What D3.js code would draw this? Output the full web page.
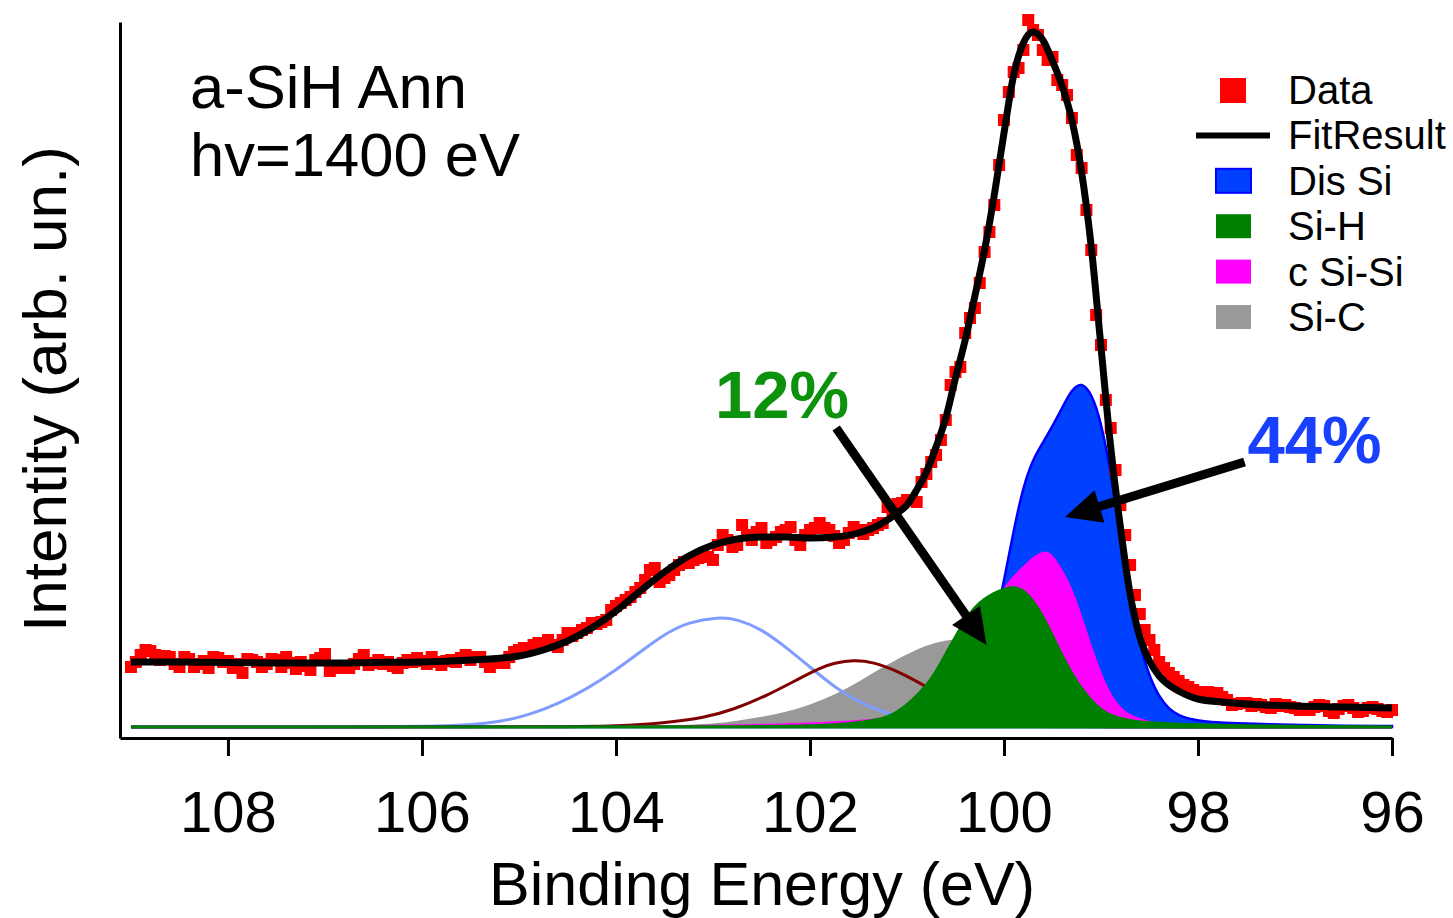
<!DOCTYPE html>
<html>
<head>
<meta charset="utf-8">
<script src="https://cdn.jsdelivr.net/npm/d3@7"></script>
<style>
  body { margin: 0; background: #fff; }
  text { font-family: "Liberation Sans", Arial, sans-serif; fill: #000; }
</style>
</head>
<body>
<svg id="xps" width="1453" height="918"></svg>
<script>
// measured spectrum: one point every 0.05 eV from 109.0 down to 96.0 eV
const dataStart = 109.0;
const dataStep = 0.05;
const dataCounts = [
  60, 65, 72, 77, 76, 72, 67, 71, 70, 63, 60, 70, 68, 60, 63, 66, 59, 70, 69, 65,
  66, 59, 63, 54, 68, 67, 65, 60, 63, 68, 67, 60, 70, 64, 58, 65, 61, 57, 67, 69,
  73, 56, 59, 61, 59, 59, 63, 68, 72, 62, 64, 67, 63, 65, 61, 59, 64, 67, 65, 69,
  66, 63, 70, 65, 62, 66, 67, 65, 69, 72, 67, 70, 70, 65, 60, 64, 66, 64, 70, 75,
  77, 79, 78, 82, 84, 83, 87, 82, 80, 87, 94, 91, 94, 97, 99, 104, 103, 105, 107, 117,
  121, 124, 127, 130, 135, 139, 147, 157, 159, 145, 149, 152, 157, 162, 165, 164, 167, 169, 172, 170,
  167, 182, 192, 187, 180, 182, 202, 192, 187, 195, 199, 184, 187, 190, 195, 197, 200, 187, 182, 192,
  197, 199, 204, 199, 197, 191, 184, 187, 194, 200, 197, 193, 197, 199, 202, 204, 220, 215, 223, 224,
  227, 227, 225, 245, 253, 265, 272, 287, 307, 342, 355, 360, 394, 409, 419, 444, 475, 495, 522, 562,
  607, 635, 655, 659, 677, 707, 697, 692, 677, 667, 670, 647, 642, 632, 609, 572, 559, 517, 477, 412,
  382, 327, 299, 257, 222, 192, 162, 132, 113, 97, 87, 77, 65, 59, 54, 50, 46, 42, 40, 37,
  35, 34, 35, 33, 34, 30, 27, 22, 23, 24, 24, 21, 23, 22, 20, 19, 23, 21, 22, 20,
  19, 17, 18, 17, 20, 22, 21, 16, 14, 18, 21, 22, 19, 15, 16, 19, 20, 18, 16, 15, 17
];

// fit envelope
const fitEnergy = [109.0, 108.5, 108.0, 107.5, 107.0, 106.5, 106.0, 105.5, 105.0, 104.75, 104.5, 104.25, 104.0,
  103.75, 103.5, 103.25, 103.0, 102.75, 102.5, 102.25, 102.0, 101.75, 101.5, 101.25, 101.1, 101.0,
  100.9, 100.8, 100.7, 100.6, 100.5, 100.4, 100.3, 100.2, 100.1, 100.0,
  99.9, 99.8, 99.7, 99.6, 99.5, 99.4, 99.3, 99.2, 99.1, 99.0,
  98.9, 98.8, 98.7, 98.6, 98.5, 98.4, 98.3, 98.2, 98.0, 97.75, 97.5, 97.0, 96.5, 96.0];
const fitCounts = [65, 65, 64.5, 64, 64, 64.5, 65, 67, 71, 77, 86, 99, 116,
  136, 155, 171, 182, 188, 190, 190, 189, 190, 194, 204, 214, 222,
  237, 255, 280, 309, 349, 387, 431, 477, 532, 594,
  652, 684, 695, 687, 666, 641, 607, 555, 480, 380,
  280, 200, 133, 90, 66, 51, 42, 36, 28, 25, 23, 21, 20, 19];

// fit components
const broadEnergy = [109.0, 106.0, 105.5, 105.2, 104.9, 104.6, 104.3, 104.0, 103.75, 103.5, 103.25, 102.95,
  102.75, 102.5, 102.25, 102.0, 101.75, 101.5, 101.25, 101.0, 100.5, 100.0, 96.0];
const broadCounts = [0, 0, 2, 5, 12, 23, 38, 57, 75, 93, 105, 110, 108, 98, 80, 60, 40, 25, 15, 8, 2, 0, 0];

const midEnergy = [109.0, 104.5, 104.0, 103.5, 103.1, 102.8, 102.45, 102.1, 101.9, 101.75, 101.55, 101.35,
  101.1, 100.85, 100.6, 100.35, 100.1, 99.8, 99.3, 96.0];
const midCounts = [0, 0, 1, 4, 9, 17, 31, 49, 59, 64, 67, 65, 56, 43, 29, 16, 7, 2, 0, 0];

const siCEnergy = [109.0, 104.0, 103.5, 103.0, 102.75, 102.5, 102.25, 102.0, 101.75, 101.5, 101.25, 101.0,
  100.8, 100.6, 100.45, 100.3, 100.1, 99.9, 99.6, 99.3, 99.0, 98.5, 96.0];
const siCCounts = [0, 0, 1, 3, 6, 10, 15, 22, 32, 45, 60, 73, 82, 87, 88, 86, 76, 60, 35, 15, 5, 0, 0];

const disSiEnergy = [109.0, 101.2, 100.8, 100.5, 100.3, 100.2, 100.1, 100.0, 99.9, 99.8, 99.7, 99.6, 99.5,
  99.4, 99.3, 99.2, 99.1, 99.0, 98.9, 98.8, 98.7, 98.6, 98.5, 98.4, 98.3, 98.2, 98.0, 97.75, 97.0, 96.5, 96.0];
const disSiCounts = [0, 0, 3, 10, 30, 55, 100, 146, 197, 241, 268, 284, 301,
  319, 338, 345, 334, 306, 255, 193, 133, 82, 50, 30, 18, 11, 6, 4, 2, 1, 1];

const cSiSiEnergy = [109.0, 101.2, 100.8, 100.6, 100.4, 100.2, 100.0, 99.9, 99.8, 99.7, 99.58, 99.5,
  99.4, 99.3, 99.2, 99.1, 99.0, 98.9, 98.8, 98.7, 98.5, 98.2, 97.5, 96.0];
const cSiSiCounts = [0, 0, 20, 45, 80, 110, 140, 152, 161, 171, 177, 173, 158, 140, 113, 82, 55, 33, 20, 12, 5, 3, 1, 0];

const siHEnergy = [109.0, 102.5, 102.0, 101.6, 101.28, 101.1, 100.94, 100.8, 100.7, 100.6, 100.5, 100.4,
  100.3, 100.2, 100.1, 100.0, 99.9, 99.8, 99.7, 99.6, 99.5, 99.4, 99.3, 99.2, 99.1, 99.0, 98.9, 98.7,
  98.5, 98.0, 97.5, 96.0];
const siHCounts = [0, 0, 1, 3, 7, 14, 27, 41, 55, 73, 90, 107, 120, 128, 134, 138, 140, 137, 126, 111,
  91, 71, 53, 38, 26, 17, 11, 6, 4, 2, 1, 0];

const xTicks = [108, 106, 104, 102, 100, 98, 96];

// annotations: [energy, counts]
const notes = [
  { text: "12%", color: "#0c920c", at: [102.98, 309], from: [101.73, 299], to: [100.18, 82] },
  { text: "44%", color: "#1a40ff", at: [97.49, 264], from: [97.52, 265], to: [99.37, 210] }
];

const svg = d3.select("#xps");

const x = d3.scaleLinear().domain([109.113, 96]).range([120, 1392]);
const y = d3.scaleLinear().domain([-11, 705]).range([738, 22]);

const pts = (es, cs) => es.map((e, i) => [e, cs[i]]);
const fitLine = d3.line().x(d => x(d[0])).y(d => y(d[1])).curve(d3.curveMonotoneX);
const line = d3.line().x(d => x(d[0])).y(d => y(d[1])).curve(d3.curveBasis);
const area = d3.area().x(d => x(d[0])).y0(y(0)).y1(d => y(d[1])).curve(d3.curveBasis);

//Si-C
svg.append("path").attr("d", area(pts(siCEnergy, siCCounts))).attr("fill", "#999999");

// thin component lines
svg.append("path").attr("d", line(pts(broadEnergy, broadCounts)))
  .attr("fill", "none").attr("stroke", "#7f9dff").attr("stroke-width", 3);
svg.append("path").attr("d", line(pts(midEnergy, midCounts)))
  .attr("fill", "none").attr("stroke", "#800000").attr("stroke-width", 3);

//Dis Si, c Si-Si, Si-H
svg.append("path").attr("d", area(pts(disSiEnergy, disSiCounts)))
  .attr("fill", "#0040ff").attr("stroke", "#0000ff").attr("stroke-width", 2.5);
svg.append("path").attr("d", area(pts(cSiSiEnergy, cSiSiCounts))).attr("fill", "#ff00ff");
svg.append("path").attr("d", area(pts(siHEnergy, siHCounts)))
  .attr("fill", "#008000").attr("stroke", "#008000").attr("stroke-width", 3);

// data squares
const data = dataCounts.map((c, i) => [dataStart - i * dataStep, c]);
svg.append("g").selectAll("rect").data(data).enter().append("rect")
  .attr("x", d => x(d[0]) - 6)
  .attr("y", d => y(d[1]) - 6)
  .attr("width", 12)
  .attr("height", 12)
  .attr("fill", "#ff0000");

// fit
svg.append("path").attr("d", fitLine(pts(fitEnergy, fitCounts)))
  .attr("fill", "none").attr("stroke", "#000").attr("stroke-width", 7)
  .attr("stroke-linejoin", "round");

// axes
const xAxis = svg.append("g")
  .attr("transform", "translate(0," + y.range()[0] + ")")
  .call(d3.axisBottom(x).tickValues(xTicks).tickFormat(d3.format("d")).tickSize(18).tickSizeOuter(0));
xAxis.select(".domain").attr("stroke-width", 3);
xAxis.selectAll(".tick line").attr("stroke-width", 3);
xAxis.selectAll(".tick text")
  .attr("y", 94).attr("dy", null)
  .attr("font-size", 58)
  .attr("font-family", "Liberation Sans, Arial, sans-serif");

const yAxis = svg.append("g")
  .attr("transform", "translate(" + x.range()[0] + ",0)")
  .call(d3.axisLeft(y).tickValues([]).tickSizeOuter(0));
yAxis.select(".domain").attr("stroke-width", 3);

svg.append("text").attr("x", 762).attr("y", 905).attr("text-anchor", "middle")
  .attr("font-size", 61).text("Binding Energy (eV)");
svg.append("text").attr("transform", "translate(66,389) rotate(-90)").attr("text-anchor", "middle")
  .attr("font-size", 62).text("Intentity (arb. un.)");

// sample label
svg.append("text").attr("x", 190).attr("y", 108).attr("font-size", 61.5).text("a-SiH Ann");
svg.append("text").attr("x", 190).attr("y", 176).attr("font-size", 61.5).text("hv=1400 eV");

// percentage arrows
notes.forEach(n => {
  const x0 = x(n.from[0]), y0 = y(n.from[1]);
  const x1 = x(n.to[0]), y1 = y(n.to[1]);
  const len = Math.hypot(x1 - x0, y1 - y0);
  const ux = (x1 - x0) / len, uy = (y1 - y0) / len;
  const head = 36, half = 17;
  const bx = x1 - ux * head, by = y1 - uy * head;
  svg.append("line")
    .attr("x1", x0).attr("y1", y0)
    .attr("x2", bx + ux * 2).attr("y2", by + uy * 2)
    .attr("stroke", "#000").attr("stroke-width", 9);
  svg.append("path")
    .attr("d", "M" + x1 + "," + y1 +
      "L" + (bx - uy * half) + "," + (by + ux * half) +
      "L" + (bx + uy * half) + "," + (by - ux * half) + "Z")
    .attr("fill", "#000");
  svg.append("text")
    .attr("x", x(n.at[0])).attr("y", y(n.at[1]))
    .attr("font-size", 67).attr("font-weight", "bold")
    .style("fill", n.color)
    .text(n.text);
});

// legend
const legend = svg.append("g").attr("font-size", 40);
const legendNames = ["Data", "FitResult", "Dis Si", "Si-H", "c Si-Si", "Si-C"];
const swatchFill = { "Dis Si": "#0040ff", "Si-H": "#008000", "c Si-Si": "#ff00ff", "Si-C": "#999999" };
legendNames.forEach((name, i) => {
  const cy = 90 + i * 45.4;
  if (name === "Data") {
    legend.append("rect").attr("x", 1220).attr("y", cy - 12).attr("width", 26).attr("height", 25).attr("fill", "#ff0000");
  } else if (name === "FitResult") {
    legend.append("line").attr("x1", 1196).attr("x2", 1270).attr("y1", cy).attr("y2", cy)
      .attr("stroke", "#000").attr("stroke-width", 6);
  } else {
    legend.append("rect").attr("x", 1216).attr("y", cy - 12).attr("width", 35).attr("height", 24)
      .attr("fill", swatchFill[name])
      .attr("stroke", name === "Dis Si" ? "#0000ff" : "none").attr("stroke-width", 2);
  }
  legend.append("text").attr("x", 1288).attr("y", cy + 14).text(name);
});
</script>
</body>
</html>
